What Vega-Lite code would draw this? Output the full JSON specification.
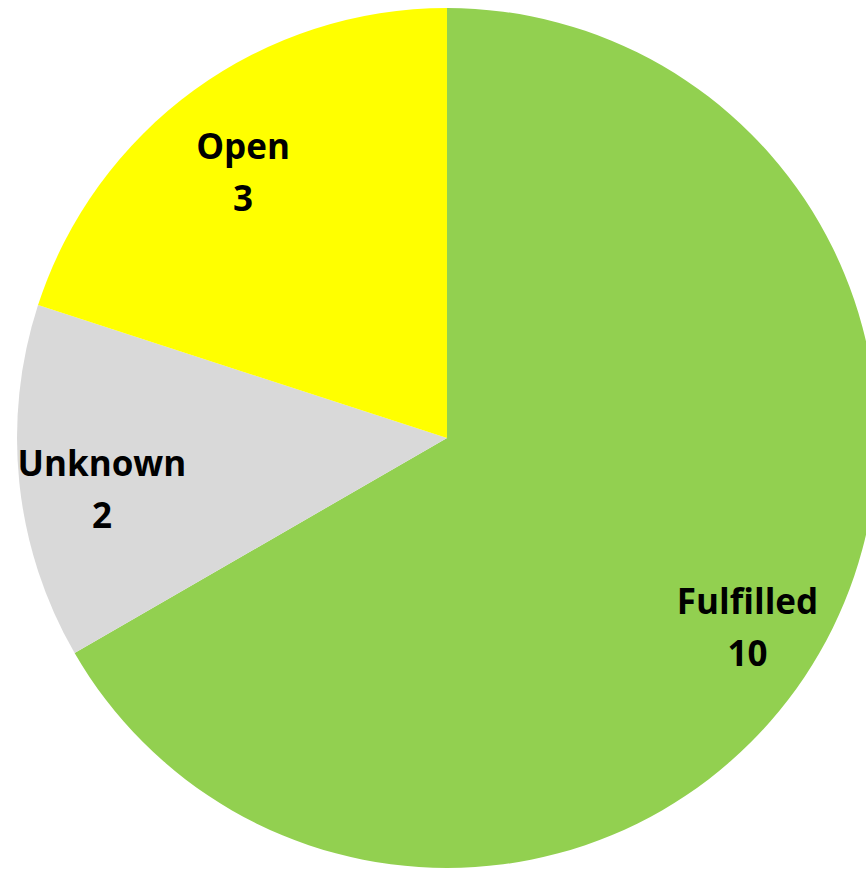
{
  "$schema": "https://vega.github.io/schema/vega-lite/v6.json",
  "width": 894,
  "height": 876,
  "padding": 0,
  "autosize": {"type": "none"},
  "background": "white",
  "config": {"view": {"stroke": null}},
  "data": {"values": [
    {"status": "Fulfilled", "count": 10, "order": 1},
    {"status": "Unknown", "count": 2, "order": 2},
    {"status": "Open", "count": 3, "order": 3}
  ]},
  "transform": [{"calculate": "datum.status + '\\n' + datum.count", "as": "label"}],
  "encoding": {
    "theta": {"field": "count", "type": "quantitative", "stack": true},
    "order": {"field": "order", "type": "quantitative"},
    "color": {
      "field": "status", "type": "nominal", "legend": null,
      "scale": {"domain": ["Fulfilled", "Unknown", "Open"], "range": ["#92D050", "#D9D9D9", "#FFFF00"]}
    }
  },
  "layer": [
    {"mark": {"type": "arc", "outerRadius": 430}},
    {"mark": {"type": "text", "radius": 347, "dy": -9, "font": "Open Sans", "fontWeight": "bold", "fontSize": 35, "lineBreak": "\n", "lineHeight": 52, "baseline": "middle", "align": "center", "fill": "black"},
     "encoding": {"text": {"field": "label"}, "color": {"value": "black"}}}
  ]
}
